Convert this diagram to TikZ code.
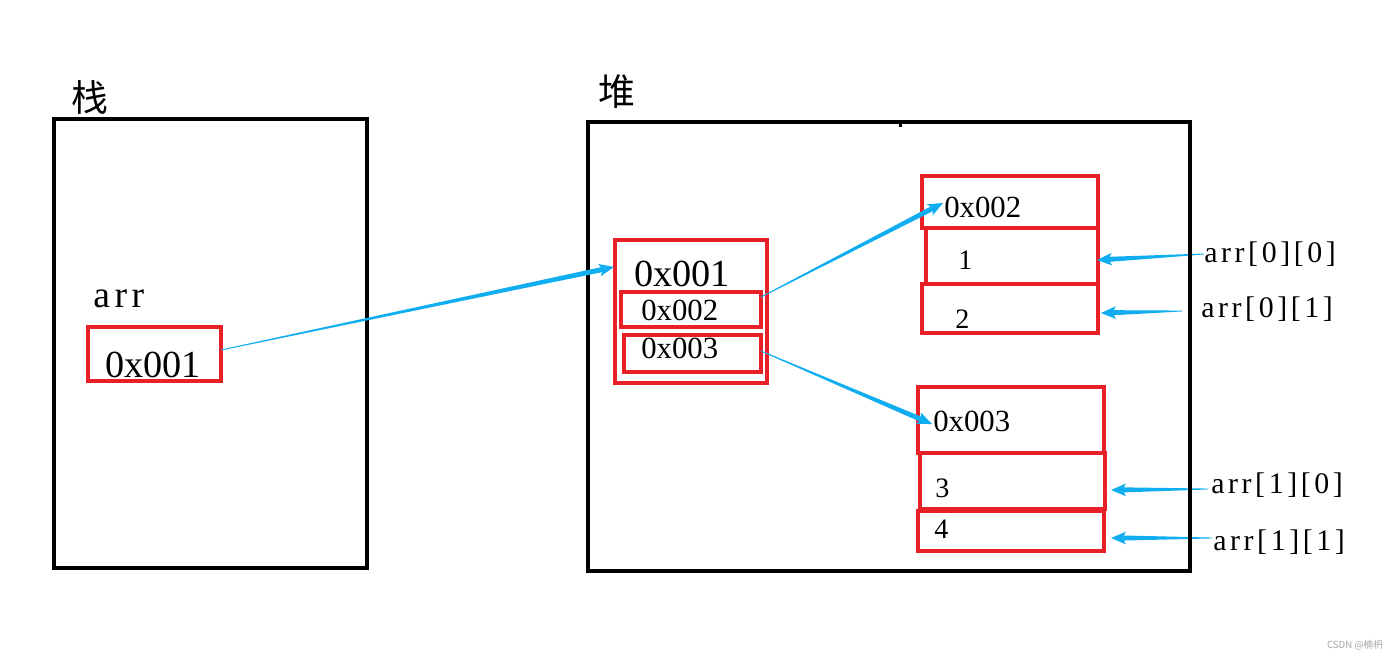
\documentclass[tikz,border=0pt]{standalone}
\usepackage{fontspec}
\setmainfont{Liberation Serif}
\newfontfamily\cjk{Noto Sans CJK SC}
\newfontfamily\lblfont[LetterSpace=12]{Liberation Serif}
\usetikzlibrary{calc,fit}
\definecolor{boxred}{RGB}{232,32,40}
\definecolor{arrowblue}{RGB}{16,174,240}
\newcommand\bluearrow[2]{%
  \coordinate (hdB) at ($(#2)!8.5pt!(#1)$);
  \coordinate (hdN) at ($(#2)!6.5pt!(#1)$);
  \fill[arrowblue] ($(#1)!0.25pt!90:(hdN)$) -- ($(hdN)!1.45pt!-90:(#1)$) -- ($(hdN)!1.45pt!90:(#1)$) -- ($(#1)!0.25pt!-90:(hdN)$) -- cycle;
  \fill[arrowblue] (#2) -- ($(hdB)!3.6pt!90:(#2)$) -- (hdN) -- ($(hdB)!3.6pt!-90:(#2)$) -- cycle;
}
\begin{document}
\begin{tikzpicture}[x=0.02cm,y=-0.02cm,
  blackbox/.style={draw=black,line width=2pt,inner sep=0pt},
  redbox/.style={draw=boxred,line width=1.75pt,inner sep=0pt},
  txt/.style={inner sep=0pt,anchor=base west},
  bigtxt/.style={txt,font=\fontsize{21.8}{24}\selectfont},
  midtxt/.style={txt,font=\fontsize{17.5}{20}\selectfont},
  digtxt/.style={txt,font=\fontsize{16}{19}\selectfont},
  lbltxt/.style={txt,font=\lblfont\fontsize{17}{20}\selectfont},
  arrtxt/.style={txt,font=\lblfont\fontsize{21.4}{24}\selectfont},
  cjktxt/.style={inner sep=0pt,font=\cjk\fontsize{21}{24}\selectfont}]
\useasboundingbox (0,0) rectangle (1400,657);
\fill[white] (0,0) rectangle (1400,657);

% stack
\node[cjktxt] (stackT) at (90,97) {栈};
\node[blackbox,fit={(54,119) (367,568)}] (stack) {};
\node[arrtxt] (arrT) at (93,307) {arr};
\node[redbox,fit={(88,327) (221,381)}] (ptr) {};
\node[bigtxt] (ptrT) at (105,377) {0x001};

% heap
\node[cjktxt] (heapT) at (617,92) {堆};
\node[blackbox,fit={(588,122) (1190,571)}] (heap) {};
\fill (899,121) rectangle (902,127);

\node[redbox,fit={(615,240) (767,383)}] (outer) {};
\node[bigtxt] (outerT) at (634,286) {0x001};
\node[redbox,fit={(621,292) (761,327)}] (row0) {};
\node[midtxt] (row0T) at (641,320) {0x002};
\node[redbox,fit={(624,335) (761,372)}] (row1) {};
\node[midtxt] (row1T) at (641,358) {0x003};

\node[redbox,fit={(922,176) (1098,228)}] (a0h) {};
\node[midtxt] (a0hT) at (944,217) {0x002};
\node[redbox,fit={(926,228) (1098,284)}] (a00) {};
\node[digtxt] (a00T) at (958,269) {1};
\node[redbox,fit={(922,284) (1098,333)}] (a01) {};
\node[digtxt] (a01T) at (955,328) {2};

\node[redbox,fit={(918,387) (1104,453)}] (a1h) {};
\node[midtxt] (a1hT) at (933,431) {0x003};
\node[redbox,fit={(920,453) (1105,509)}] (a10) {};
\node[digtxt] (a10T) at (935,497) {3};
\node[redbox,fit={(918,511) (1104,551)}] (a11) {};
\node[digtxt] (a11T) at (934,538) {4};

\node[lbltxt] (l00) at (1204,262) {arr[0][0]};
\node[lbltxt] (l01) at (1201,317) {arr[0][1]};
\node[lbltxt] (l10) at (1211,493) {arr[1][0]};
\node[lbltxt] (l11) at (1213,550) {arr[1][1]};

% arrow end points
\coordinate (s1) at (221,350); \coordinate (e1) at (614,267);
\coordinate (s2) at (761,297); \coordinate (e2) at (943,203);
\coordinate (s3) at (761,351); \coordinate (e3) at (932,424);
\coordinate (s4) at (1204,254); \coordinate (e4) at (1097,260);
\coordinate (s5) at (1182,311); \coordinate (e5) at (1101,313);
\coordinate (s6) at (1208,489); \coordinate (e6) at (1111,490);
\coordinate (s7) at (1212,538); \coordinate (e7) at (1111,538);
\bluearrow{s1}{e1}
\bluearrow{s2}{e2}
\bluearrow{s3}{e3}
\bluearrow{s4}{e4}
\bluearrow{s5}{e5}
\bluearrow{s6}{e6}
\bluearrow{s7}{e7}
\draw[black,line width=2pt] (1190,122) -- (1190,571);

\node[inner sep=0pt,text=black!35,font=\cjk\fontsize{5.5}{6}\selectfont] (wm) at (1355,645) {CSDN @楠枬};
\end{tikzpicture}
\end{document}
